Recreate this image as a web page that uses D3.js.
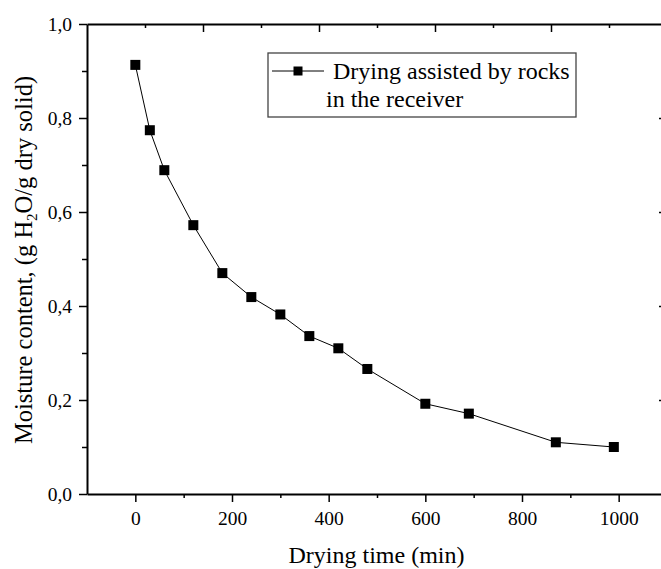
<!DOCTYPE html>
<html>
<head>
<meta charset="utf-8">
<script src="https://cdn.jsdelivr.net/npm/d3@7"></script>
<style>
  html, body { margin: 0; padding: 0; background: #fff; }
  svg { display: block; }
  svg text { font-family: "Liberation Serif", "Times New Roman", serif !important; fill: #000; }
</style>
</head>
<body>
<svg id="chart" width="661" height="569"></svg>
<script>
// Drying curve: moisture content over drying time
const timeMin = [0, 30, 60, 120, 180, 240, 300, 360, 420, 480, 600, 690, 870, 990];
const moisture = [0.913, 0.774, 0.689, 0.572, 0.470, 0.419, 0.382, 0.336, 0.310, 0.266, 0.192, 0.171, 0.110, 0.100];
const seriesName = ["Drying assisted by rocks", "in the receiver"];

const xMajor = [0, 200, 400, 600, 800, 1000];
const xMinor = [100, 300, 500, 700, 900];
const yMajor = [0, 0.2, 0.4, 0.6, 0.8, 1.0];
const yMinor = [0.1, 0.3, 0.5, 0.7, 0.9];
const topMajor = [0.2, 0.4, 0.6, 0.8];
const topMinor = [0.1, 0.3, 0.5, 0.7, 0.9];

const svg = d3.select("#chart");
const L = 87, R = 667, T = 24, B = 494;
const serif = "'Liberation Serif', 'Times New Roman', serif";

const x = d3.scaleLinear().domain([-100, 1100]).range([L, R]);
const y = d3.scaleLinear().domain([0, 1]).range([B, T]);
const xTop = d3.scaleLinear().domain([0, 1]).range([L, R]);

const fmtY = v => d3.format(".1f")(v).replace(".", ",");

// axis with major + minor ticks
function drawAxis(gen, scale, major, minor, transform, majorLen, minorLen, labels) {
  const gMaj = svg.append("g").attr("transform", transform)
    .call(gen(scale).tickValues(major).tickSize(majorLen).tickSizeOuter(0)
      .tickPadding(6).tickFormat(labels || (() => "")));
  const gMin = svg.append("g").attr("transform", transform)
    .call(gen(scale).tickValues(minor).tickSize(minorLen).tickSizeOuter(0).tickFormat(() => ""));
  gMin.select(".domain").remove();
  [gMaj, gMin].forEach(g => {
    g.attr("font-family", serif);
    g.selectAll(".tick line").attr("stroke", "#000").attr("stroke-width", 1.5);
  });
  gMaj.select(".domain").attr("stroke", "#000").attr("stroke-width", 2);
  return gMaj;
}

const gx = drawAxis(d3.axisBottom, x, xMajor, xMinor, `translate(0,${B})`, 8, 4, d => d3.format("d")(d));
gx.selectAll(".tick text").attr("font-size", 19.5).attr("dy", "0.85em");

const gy = drawAxis(d3.axisLeft, y, yMajor, yMinor, `translate(${L},0)`, 8, 5, fmtY);
gy.selectAll(".tick text").attr("font-size", 19.5).attr("dx", "-1").attr("dy", "0.34em");

drawAxis(d3.axisBottom, xTop, topMajor, topMinor, `translate(0,${T})`, 8, 4, null);
drawAxis(d3.axisLeft, y, yMajor.slice(1, -1), yMinor, `translate(${R},0)`, 8, 4, null);

// connecting line
const pts = timeMin.map((t, i) => [t, moisture[i]]);
svg.append("path")
  .datum(pts)
  .attr("fill", "none")
  .attr("stroke", "#000")
  .attr("stroke-width", 1)
  .attr("d", d3.line().x(d => x(d[0])).y(d => y(d[1])));

// square markers
const ms = 10;
svg.append("g").selectAll("rect")
  .data(pts).join("rect")
  .attr("x", d => x(d[0]) - ms / 2)
  .attr("y", d => y(d[1]) - ms / 2)
  .attr("width", ms).attr("height", ms)
  .attr("fill", "#000");

// axis titles
svg.append("text")
  .attr("x", 376.5)
  .attr("y", 563)
  .attr("text-anchor", "middle")
  .attr("font-family", serif)
  .attr("font-size", 24)
  .text("Drying time (min)");

const yl = svg.append("text")
  .attr("transform", "translate(32,260) rotate(-90)")
  .attr("text-anchor", "middle")
  .attr("font-family", serif)
  .attr("font-size", 24.5);
yl.append("tspan").text("Moisture content, (g H");
yl.append("tspan").attr("font-size", 15).attr("dy", 5).text("2");
yl.append("tspan").attr("dy", -5).text("O/g dry solid)");

// legend
const lg = svg.append("g");
lg.append("rect")
  .attr("x", 268).attr("y", 53).attr("width", 308).attr("height", 64)
  .attr("fill", "#fff").attr("stroke", "#444").attr("stroke-width", 1.3);
lg.append("line")
  .attr("x1", 272).attr("x2", 324).attr("y1", 71).attr("y2", 71)
  .attr("stroke", "#000").attr("stroke-width", 1);
lg.append("rect")
  .attr("x", 298 - 4.5).attr("y", 71 - 4.5).attr("width", 9).attr("height", 9)
  .attr("fill", "#000");
lg.append("text").attr("x", 333).attr("y", 79).attr("font-family", serif)
  .attr("font-size", 24).text(seriesName[0]);
lg.append("text").attr("x", 326).attr("y", 107).attr("font-family", serif)
  .attr("font-size", 24).text(seriesName[1]);
</script>
</body>
</html>
